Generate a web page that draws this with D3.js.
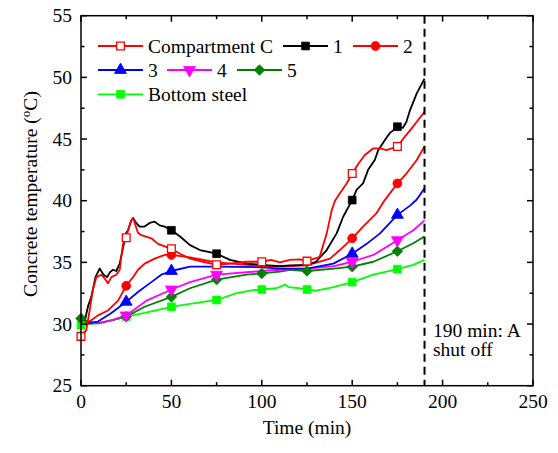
<!DOCTYPE html>
<html><head><meta charset="utf-8">
<script src="https://cdn.jsdelivr.net/npm/d3@7"></script>
<style>body{margin:0;background:#fff}svg{display:block}text{font-family:"Liberation Serif","Times New Roman",serif}</style>
</head><body><svg id="c" width="558" height="453"></svg>
<script>
const xTicks=[0,50,100,150,200,250];
const yTicks=[25,30,35,40,45,50,55];
const names=["Compartment C","1","2","3","4","5","Bottom steel"];
const compC=[[0,29.0],[2.9,29.5],[4.8,31.1],[6.6,32.8],[8.5,33.8],[11.2,34.0],[13.1,33.7],[14.9,33.3],[16.8,33.8],[19.5,34.0],[21.4,34.4],[23.2,36.5],[25,37.0],[26,37.6],[27.8,38.4],[28.8,38.6],[31.5,37.4],[33.4,37.2],[38.9,36.95],[42.6,36.5],[46.3,36.3],[50,36.1],[54.8,35.7],[60.3,35.3],[67.6,35.05],[75,34.8],[82.4,34.9],[91.6,35.05],[100,35.05],[105,35.2],[110,35.0],[115.6,35.2],[121,35.25],[125,35.1],[132,35.45],[135.9,37.35],[138.7,39.25],[140.5,40.0],[143.2,40.6],[146.9,41.4],[150,42.2],[153.4,43.0],[157,43.7],[161.7,44.25],[165.4,44.25],[169,44.1],[175,44.4],[178.3,45.05],[182,45.7],[185.7,46.4],[190,47.2]];
const s1=[[0,30.0],[2,30.2],[4,31.5],[5.7,32.2],[8,33.8],[10.3,34.5],[12.5,34.0],[14.5,33.8],[16,34.2],[17.7,34.4],[19.5,34.3],[21.4,34.9],[25,37.4],[26,37.6],[27.8,38.4],[28.8,38.6],[30.5,38.2],[32.4,37.9],[35.2,37.9],[38,38.2],[40.8,38.3],[43.5,38.0],[46.3,37.9],[50,37.6],[54.8,37.1],[60.3,36.4],[65.8,36.0],[75,35.7],[82.4,35.2],[91.6,34.9],[100,34.8],[110,34.7],[115.6,34.75],[125,34.8],[130,35.05],[135.9,36.0],[141.4,37.35],[145,38.7],[150,40.05],[152.5,40.9],[156,41.4],[158.8,42.5],[162.5,43.3],[164.4,44.1],[168,44.9],[170.9,45.5],[172.7,45.7],[175,46.0],[178,45.9],[180,46.4],[182,47.35],[185.7,48.7],[190,49.9]];
const s2=[[0,29.9],[5.7,30.3],[9.4,30.7],[14.9,31.1],[20.5,31.9],[25,33.1],[28.8,33.8],[31.5,34.4],[35.2,34.9],[40.8,35.3],[46.3,35.6],[50,35.6],[60.3,35.4],[75,35.0],[100,34.7],[110,34.65],[125,34.75],[137.7,35.3],[143.2,36.0],[150,36.95],[156,37.9],[163.5,39.0],[168,40.05],[175,41.4],[180,42.2],[185.7,43.3],[190,44.4]];
const s3=[[0,30.0],[9.4,30.2],[16.8,30.9],[25,31.8],[31.5,32.6],[38.9,33.4],[44.4,34.0],[50,34.3],[60.3,34.65],[75,34.65],[100,34.6],[110,34.5],[125,34.5],[139.6,34.9],[150,35.7],[158,36.5],[165.4,37.35],[175,38.85],[182,39.6],[185.7,40.1],[190,41.0]];
const s4=[[0,30.0],[10,30.1],[16.8,30.3],[25,30.7],[36.3,31.9],[50,32.8],[60.3,33.4],[75,34.0],[100,34.3],[110,34.4],[125,34.5],[140,34.7],[150,35.05],[161.7,35.6],[175,36.8],[183.8,37.6],[190,38.4]];
const s5=[[0,30.45],[4,30.2],[9.4,30.05],[16.8,30.3],[25,30.6],[35.2,31.4],[50,32.2],[60.3,32.9],[75,33.6],[91.6,34.0],[100,34.1],[110,34.25],[115.6,34.4],[125,34.3],[140,34.5],[150,34.65],[161.7,35.05],[175,35.9],[183.8,36.55],[190,37.1]];
const steel=[[0,29.9],[5,30.0],[9.4,30.05],[16.8,30.3],[25,30.6],[35.2,30.9],[50,31.4],[56.6,31.55],[67.6,31.8],[75,31.95],[86.1,32.5],[95.3,32.75],[100,32.8],[108.2,32.9],[112.8,33.2],[114.7,33.0],[121,32.9],[125,32.8],[130,32.7],[139.6,33.0],[150,33.4],[161.7,34.0],[175,34.45],[183.8,34.8],[190,35.2]];
// times (min) at which a symbol is shown on each curve
const mkC=[0,25,50,75,100,125,150,175];
const mk1=[50,75,150,175];
const mk2=[25,50,150,175];
const mk3=[25,50,150,175];
const mk4=[25,50,75,150,175];
const mk5=[0,25,50,75,100,125,150,175];
const mkSteel=[0,25,50,75,100,125,150,175];
const shutOff=190;

const series=[
 {name:names[0],data:compC,mk:mkC,color:"#ff0000",sym:d3.symbolSquare,fill:"#ffffff",rot:0},
 {name:names[1],data:s1,mk:mk1,color:"#000000",sym:d3.symbolSquare,fill:"#000000",rot:0},
 {name:names[2],data:s2,mk:mk2,color:"#ff0000",sym:d3.symbolCircle,fill:"#ff0000",rot:0},
 {name:names[3],data:s3,mk:mk3,color:"#0000ff",sym:d3.symbolTriangle,fill:"#0000ff",rot:0},
 {name:names[4],data:s4,mk:mk4,color:"#ff00ff",sym:d3.symbolTriangle,fill:"#ff00ff",rot:180},
 {name:names[5],data:s5,mk:mk5,color:"#008000",sym:d3.symbolDiamond2||d3.symbolDiamond,fill:"#008000",rot:0},
 {name:names[6],data:steel,mk:mkSteel,color:"#00ff00",sym:d3.symbolSquare,fill:"#00ff00",rot:0}
];
const svg=d3.select("#c");
const L=81,R=533,T=15.7,B=385.7;
const x=d3.scaleLinear().domain([0,250]).range([L,R]);
const y=d3.scaleLinear().domain([25,55]).range([B,T]);
const fs=19.5;

function symbolPath(s){
  let size=60;
  if(s.sym===d3.symbolCircle) size=62;
  if(s.sym===d3.symbolTriangle) size=62;
  if(s.sym!==d3.symbolSquare&&s.sym!==d3.symbolCircle&&s.sym!==d3.symbolTriangle) size=70;
  return d3.symbol().type(s.sym).size(size)();
}

const line=d3.line().x(d=>x(d[0])).y(d=>y(d[1]));
const gPlot=svg.append("g");
const order=series.slice().reverse();
order.forEach(s=>{
  gPlot.append("path").attr("d",line(s.data)).attr("fill","none").attr("stroke",s.color).attr("stroke-width",1.8).attr("stroke-linejoin","round");
});
order.forEach(s=>{
  gPlot.selectAll(null).data(s.data.filter(d=>s.mk.includes(d[0]))).enter().append("path")
   .attr("d",symbolPath(s))
   .attr("transform",d=>`translate(${x(d[0])},${y(d[1])}) rotate(${s.rot})`)
   .attr("fill",s.fill).attr("stroke",s.color).attr("stroke-width",s.fill==="#ffffff"?1.3:0.8);
});

svg.append("line").attr("x1",x(shutOff)).attr("x2",x(shutOff)).attr("y1",T).attr("y2",B)
 .attr("stroke","#000").attr("stroke-width",2).attr("stroke-dasharray","8,5");

svg.append("rect").attr("x",L).attr("y",T).attr("width",R-L).attr("height",B-T).attr("fill","none").attr("stroke","#000").attr("stroke-width",1.5);

const xMinor=d3.range(25,250,50);
const yMinor=d3.range(27.5,55,5);
const ax=svg.append("g").attr("stroke","#000").attr("stroke-width",1.5);
xTicks.forEach(v=>{ax.append("line").attr("x1",x(v)).attr("x2",x(v)).attr("y1",B).attr("y2",B-6);ax.append("line").attr("x1",x(v)).attr("x2",x(v)).attr("y1",T).attr("y2",T+6);});
xMinor.forEach(v=>{ax.append("line").attr("x1",x(v)).attr("x2",x(v)).attr("y1",B).attr("y2",B-3.5);ax.append("line").attr("x1",x(v)).attr("x2",x(v)).attr("y1",T).attr("y2",T+3.5);});
yTicks.forEach(v=>{ax.append("line").attr("x1",L).attr("x2",L+6).attr("y1",y(v)).attr("y2",y(v));ax.append("line").attr("x1",R).attr("x2",R-6).attr("y1",y(v)).attr("y2",y(v));});
yMinor.forEach(v=>{ax.append("line").attr("x1",L).attr("x2",L+3.5).attr("y1",y(v)).attr("y2",y(v));ax.append("line").attr("x1",R).attr("x2",R-3.5).attr("y1",y(v)).attr("y2",y(v));});

svg.selectAll(null).data(xTicks).enter().append("text").attr("x",d=>x(d)).attr("y",408).attr("text-anchor","middle").attr("font-size",fs).text(d=>d);
svg.selectAll(null).data(yTicks).enter().append("text").attr("x",72).attr("y",d=>y(d)+6.5).attr("text-anchor","end").attr("font-size",fs).text(d=>d);

svg.append("text").attr("x",(L+R)/2).attr("y",434).attr("text-anchor","middle").attr("font-size",fs).text("Time (min)");
const yt=svg.append("text").attr("transform","translate(37,194) rotate(-90)").attr("text-anchor","middle").attr("font-size",fs);
yt.append("tspan").text("Concrete temperature (");
yt.append("tspan").attr("dy",-7).attr("font-size",13).text("o");
yt.append("tspan").attr("dy",7).text("C)");

svg.append("text").attr("x",433).attr("y",337).attr("font-size",fs).text("190 min: A");
svg.append("text").attr("x",433).attr("y",356).attr("font-size",fs).text("shut off");

const legPos=[[98,46],[283,46],[353,46],[98,70],[167,70],[237,70],[98,94.3]];
series.forEach((s,i)=>{
  const [lx,ly]=legPos[i];
  const g=svg.append("g");
  g.append("line").attr("x1",lx).attr("x2",lx+45).attr("y1",ly).attr("y2",ly).attr("stroke",s.color).attr("stroke-width",1.8);
  g.append("path").attr("d",symbolPath(s)).attr("transform",`translate(${lx+22.5},${ly}) rotate(${s.rot})`)
   .attr("fill",s.fill).attr("stroke",s.color).attr("stroke-width",s.fill==="#ffffff"?1.3:0.8);
  g.append("text").attr("x",lx+50).attr("y",ly+6.5).attr("font-size",fs).text(s.name);
});
</script></body></html>
